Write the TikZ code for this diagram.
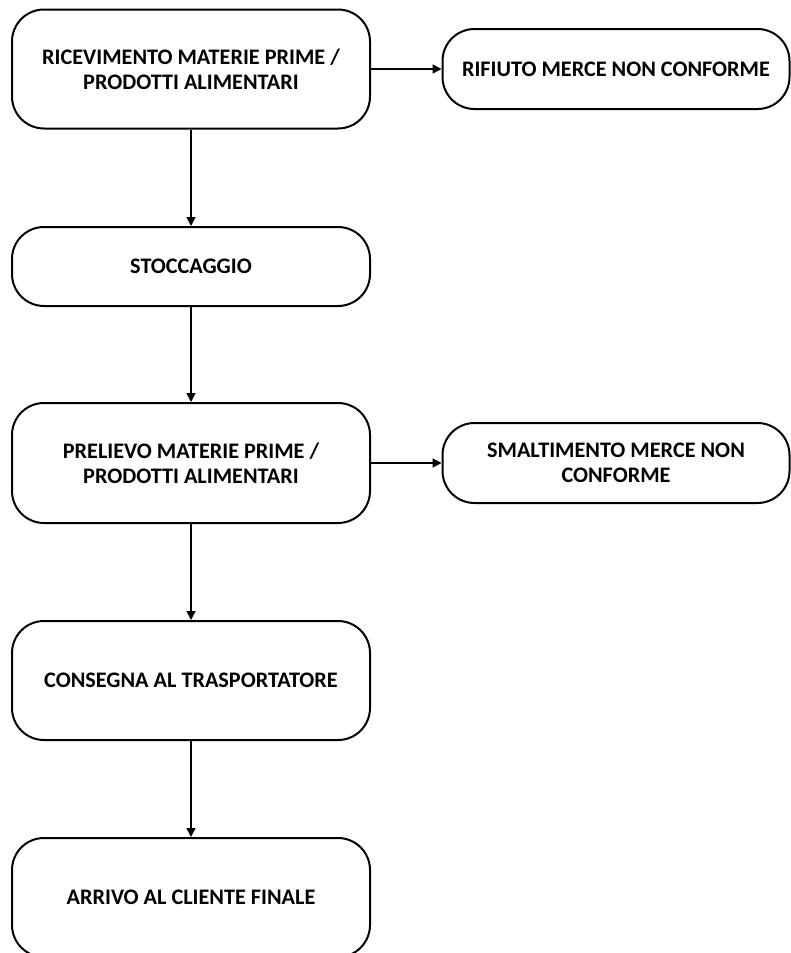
\documentclass[tikz,border=0pt]{standalone}
\usepackage{fontspec}
\setmainfont{Carlito}
\usetikzlibrary{arrows.meta}
\begin{document}
\begin{tikzpicture}[x=1pt,y=-1pt,
  stepbox/.style={draw, line width=2pt, rounded corners=32pt, align=center,
    font=\fontsize{22.2}{25}\selectfont\bfseries, inner sep=0pt},
  mainbox/.style={stepbox, minimum width=358pt},
  sidebox/.style={stepbox, minimum width=347pt, minimum height=80pt},
  conn/.style={line width=1.4pt, -{Triangle[length=9pt,width=9pt]}}]
\clip (0,0) rectangle (791,953);
\useasboundingbox (0,0) rectangle (791,953);
\node[mainbox, minimum height=119pt] (n1) at (191,69) {RICEVIMENTO MATERIE PRIME /\\PRODOTTI ALIMENTARI};
\node[sidebox] (r1) at (616,69) {RIFIUTO MERCE NON CONFORME};
\node[mainbox, minimum height=79pt] (n2) at (191,266.5) {STOCCAGGIO};
\node[mainbox, minimum height=120pt] (n3) at (191,463) {PRELIEVO MATERIE PRIME /\\PRODOTTI ALIMENTARI};
\node[sidebox] (r2) at (616,463) {SMALTIMENTO MERCE NON\\CONFORME};
\node[mainbox, minimum height=119pt] (n4) at (191,680.5) {CONSEGNA AL TRASPORTATORE};
\node[mainbox, minimum height=119pt] (n5) at (191,897.5) {ARRIVO AL CLIENTE FINALE};
\draw[conn] (n1) -- (r1);
\draw[conn] (n3) -- (r2);
\draw[conn] (n1) -- (n2);
\draw[conn] (n2) -- (n3);
\draw[conn] (n3) -- (n4);
\draw[conn] (n4) -- (n5);
\end{tikzpicture}
\end{document}
